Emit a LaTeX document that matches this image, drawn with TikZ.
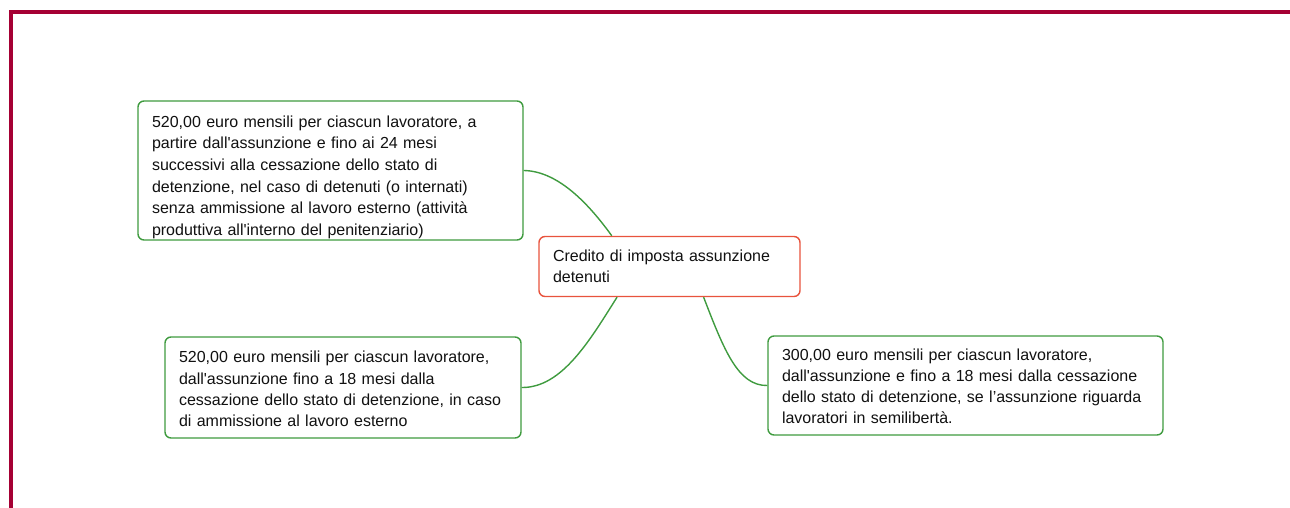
\documentclass[tikz,border=0pt]{standalone}
\usepackage{fontspec}
\setmainfont{Liberation Sans}
\usepackage{xcolor}
\usetikzlibrary{positioning, calc}

\definecolor{framered}{HTML}{A50034}
\definecolor{boxgreen}{HTML}{3F9B3F}
\definecolor{boxred}{HTML}{E8533D}
\definecolor{textgray}{HTML}{111111}

\tikzset{
  leafbox/.style={draw=boxgreen, line width=1.4pt, rounded corners=6pt, fill=white,
    inner xsep=14pt, align=left, text=textgray,
    font=\fontsize{16}{21.3}\selectfont},
  rootbox/.style={leafbox, draw=boxred},
  branch/.style={draw=boxgreen, line width=1.4pt}
}

\begin{document}
\begin{tikzpicture}[x=1pt, y=-1pt]
\useasboundingbox (0,0) rectangle (1290,508);

% Frame
\draw[framered, line width=4pt] (11,508) -- (11,12) -- (1290,12);

% Root
\node[rootbox, text width=233pt, minimum height=60pt] (root) at (669.5,266.5)
  {Credito di imposta assunzione\\detenuti};

% Leaves
\node[leafbox, text width=357pt, minimum height=139pt, inner ysep=0pt,
      font=\fontsize{16}{21.6}\selectfont] (interni) at (330.5,170.5)
  {\rule{0pt}{25pt}520,00 euro mensili per ciascun lavoratore, a\\
   partire dall\textquotesingle assunzione e fino ai 24 mesi\\
   successivi alla cessazione dello stato di\\
   detenzione, nel caso di detenuti (o internati)\\
   senza ammissione al lavoro esterno (attività\\
   produttiva all\textquotesingle interno del penitenziario)};
\node[leafbox, text width=328pt, minimum height=101pt] (esterni) at (343,387.5)
  {\rule{0pt}{15pt}520,00 euro mensili per ciascun lavoratore,\\
   dall\textquotesingle assunzione fino a 18 mesi dalla\\
   cessazione dello stato di detenzione, in caso\\
   di ammissione al lavoro esterno};
\node[leafbox, text width=367pt, minimum height=99pt,
      font=\fontsize{16}{20.8}\selectfont] (semiliberi) at (965.5,385.5)
  {\rule{0pt}{13pt}300,00 euro mensili per ciascun lavoratore,\\
   dall\textquotesingle assunzione e fino a 18 mesi dalla cessazione\\
   dello stato di detenzione, se l'assunzione riguarda\\
   lavoratori in semilibertà.};

% Branches
\coordinate (rootTL) at ($(root.north west)!0.28!(root.north east)$);
\coordinate (rootBL) at ($(root.south west)!0.30!(root.south east)$);
\coordinate (rootBR) at ($(root.south west)!0.63!(root.south east)$);
\draw[branch] (interni.east) .. controls (556,171) and (586,200) .. (rootTL);
\draw[branch] (rootBL) .. controls (590,340) and (562,388) .. (esterni.east);
\draw[branch] (rootBR) .. controls (724,350) and (738,386) .. (semiliberi.west);
\end{tikzpicture}
\end{document}
